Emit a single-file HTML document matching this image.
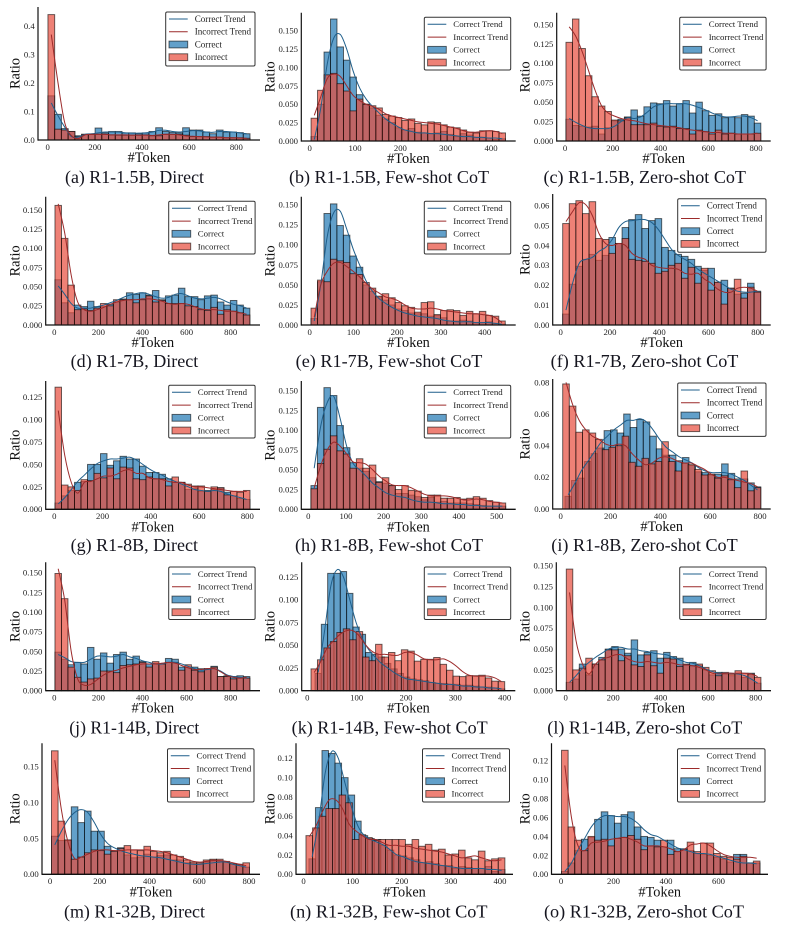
<!DOCTYPE html>
<html lang="en">
<head>
<meta charset="utf-8">
<title>Token count histograms by model and prompting method</title>
<style>
html,body{margin:0;padding:0;background:#fff;}
svg{display:block;font-family:"Liberation Serif",serif;filter:blur(.3px);}
.cap{font-size:17.4px;fill:#15151f;}
</style>
</head>
<body>
<svg id="figure" xmlns="http://www.w3.org/2000/svg" width="785" height="929" viewBox="0 0 785 929">
<rect width="785" height="929" fill="#fff"/>
<g id="plots"></g>
<g>
<text class="cap" x="65" y="183" textLength="139" lengthAdjust="spacingAndGlyphs">(a) R1-1.5B, Direct</text>
<text class="cap" x="289" y="183" textLength="200" lengthAdjust="spacingAndGlyphs">(b) R1-1.5B, Few-shot CoT</text>
<text class="cap" x="543.5" y="183" textLength="202.5" lengthAdjust="spacingAndGlyphs">(c) R1-1.5B, Zero-shot CoT</text>
<text class="cap" x="70.7" y="367" textLength="127.6" lengthAdjust="spacingAndGlyphs">(d) R1-7B, Direct</text>
<text class="cap" x="295.7" y="367" textLength="186.7" lengthAdjust="spacingAndGlyphs">(e) R1-7B, Few-shot CoT</text>
<text class="cap" x="550.7" y="367" textLength="187.7" lengthAdjust="spacingAndGlyphs">(f) R1-7B, Zero-shot CoT</text>
<text class="cap" x="70.7" y="551" textLength="127.3" lengthAdjust="spacingAndGlyphs">(g) R1-8B, Direct</text>
<text class="cap" x="295" y="551" textLength="188" lengthAdjust="spacingAndGlyphs">(h) R1-8B, Few-shot CoT</text>
<text class="cap" x="551.3" y="551" textLength="186.4" lengthAdjust="spacingAndGlyphs">(i) R1-8B, Zero-shot CoT</text>
<text class="cap" x="69.3" y="733.3" textLength="130" lengthAdjust="spacingAndGlyphs">(j) R1-14B, Direct</text>
<text class="cap" x="291.7" y="733.3" textLength="196" lengthAdjust="spacingAndGlyphs">(k) R1-14B, Few-shot CoT</text>
<text class="cap" x="547.3" y="733.3" textLength="195" lengthAdjust="spacingAndGlyphs">(l) R1-14B, Zero-shot CoT</text>
<text class="cap" x="64" y="917.5" textLength="141" lengthAdjust="spacingAndGlyphs">(m) R1-32B, Direct</text>
<text class="cap" x="290" y="917.5" textLength="197.5" lengthAdjust="spacingAndGlyphs">(n) R1-32B, Few-shot CoT</text>
<text class="cap" x="544" y="917.5" textLength="200" lengthAdjust="spacingAndGlyphs">(o) R1-32B, Zero-shot CoT</text>
</g>
</svg>
<script>
// ---------- tick label values ----------
const xTicks200 = [0, 200, 400, 600, 800];
const xTicks200Short = [0, 200, 400, 600];
const xTicks100 = [0, 100, 200, 300, 400];
const xTicks100Long = [0, 100, 200, 300, 400, 500];
const yTicksA = [0, 0.1, 0.2, 0.3, 0.4];
const yTicks150 = [0, 0.025, 0.05, 0.075, 0.1, 0.125, 0.15];
const yTicks125 = [0, 0.025, 0.05, 0.075, 0.1, 0.125];
const yTicksF = [0, 0.01, 0.02, 0.03, 0.04, 0.05, 0.06];
const yTicksI = [0, 0.02, 0.04, 0.06, 0.08];
const yTicksM = [0, 0.05, 0.1, 0.15];
const yTicks12 = [0, 0.02, 0.04, 0.06, 0.08, 0.1, 0.12];

// ---------- series values (ratio per bin) ----------
const aCorrect = [.155,.09,.04,.03,.015,.02,.02,.042,.025,.03,.03,.025,.025,.022,.025,.03,.043,.03,.027,.025,.043,.035,.035,.028,.022,.035,.028,.028,.026,.022];
const aIncorrect = [.44,.038,.035,.03,.012,.02,.02,.02,.02,.018,.017,.017,.017,.017,.018,.015,.015,.02,.02,.02,.017,.012,.012,.012,.01,.01,.008,.008,.008,.006];
const aCorrectTrend = [.13,.085,.045,.012,.01,.02,.022,.025,.028,.028,.028,.025,.024,.024,.025,.028,.034,.034,.03,.028,.03,.033,.032,.028,.027,.03,.03,.028,.025,.022];
const aIncorrectTrend = [.37,.2,.06,.015,.005,.018,.02,.02,.02,.018,.018,.018,.017,.017,.017,.016,.018,.02,.02,.018,.014,.013,.012,.011,.01,.01,.008,.008,.007,.006];

const bCorrect = [.006,.05,.121,.166,.128,.11,.087,.063,.05,.045,.035,.03,.025,.018,.015,.017,.012,.011,.01,.011,.013,.009,.006,.01,.008,.005,.005,.004,.002,.003];
const bIncorrect = [.031,.069,.09,.092,.078,.068,.041,.057,.05,.048,.045,.036,.034,.032,.028,.03,.024,.022,.026,.025,.022,.019,.018,.015,.012,.011,.014,.014,.013,.011];
const bCorrectTrend = [.002,.045,.105,.14,.145,.125,.095,.072,.057,.047,.038,.03,.024,.019,.015,.013,.011,.011,.01,.01,.009,.008,.007,.006,.006,.005,.005,.004,.004,.003];
const bIncorrectTrend = [.035,.06,.085,.091,.088,.075,.062,.055,.05,.047,.043,.037,.034,.032,.03,.028,.026,.025,.024,.023,.021,.019,.017,.014,.012,.012,.013,.014,.013,.01];

const cCorrect = [.028,.02,.019,.018,.019,.009,.017,.026,.028,.031,.04,.032,.044,.049,.048,.052,.045,.048,.052,.036,.05,.039,.033,.035,.03,.031,.03,.034,.032,.023];
const cIncorrect = [.127,.157,.119,.084,.057,.045,.038,.027,.026,.03,.021,.021,.021,.023,.019,.018,.019,.016,.016,.009,.014,.012,.009,.014,.009,.01,.009,.009,.009,.01];
const cCorrectTrend = [.029,.024,.02,.017,.016,.016,.016,.019,.025,.03,.029,.031,.037,.044,.047,.048,.048,.048,.048,.046,.043,.04,.036,.033,.031,.031,.032,.032,.03,.026];
const cIncorrectTrend = [.147,.135,.115,.09,.065,.045,.036,.032,.029,.027,.026,.024,.022,.021,.02,.019,.018,.017,.015,.014,.013,.012,.011,.011,.01,.01,.009,.009,.009,.01];

const dCorrect = [.059,.029,.016,.026,.024,.031,.024,.024,.027,.03,.034,.042,.04,.042,.039,.045,.033,.038,.039,.048,.037,.037,.033,.038,.039,.03,.026,.032,.026,.022];
const dIncorrect = [.156,.113,.052,.02,.021,.019,.022,.028,.025,.033,.033,.033,.029,.033,.038,.03,.032,.028,.028,.028,.025,.024,.02,.019,.023,.014,.02,.018,.016,.013];
const dCorrectTrend = [.051,.04,.028,.022,.022,.022,.024,.026,.029,.032,.036,.039,.041,.042,.04,.037,.035,.036,.04,.041,.038,.035,.034,.035,.036,.034,.03,.027,.025,.022];
const dIncorrectTrend = [.158,.12,.065,.03,.02,.018,.02,.023,.027,.03,.032,.033,.033,.034,.034,.033,.031,.028,.027,.028,.027,.024,.021,.02,.02,.019,.018,.018,.016,.014];

const eCorrect = [.008,.054,.139,.151,.124,.112,.086,.072,.05,.042,.035,.031,.025,.02,.018,.015,.014,.014,.011,.012,.009,.005,.005,.006,.005,.003,.003,.004,.002,.001];
const eIncorrect = [.021,.056,.054,.082,.08,.078,.064,.063,.053,.046,.036,.039,.034,.028,.024,.022,.016,.028,.029,.013,.018,.019,.018,.012,.017,.014,.017,.012,.011,.005];
const eCorrectTrend = [.005,.05,.11,.14,.142,.12,.095,.075,.055,.042,.033,.027,.022,.018,.015,.013,.011,.01,.009,.008,.006,.005,.004,.004,.004,.003,.003,.003,.002,.001];
const eIncorrectTrend = [.01,.05,.067,.077,.078,.073,.067,.06,.052,.045,.04,.035,.033,.03,.025,.021,.02,.02,.021,.02,.018,.017,.016,.015,.014,.014,.013,.012,.009,.003];

const fCorrect = [.0055,.0205,.0295,.033,.0355,.0325,.035,.044,.041,.049,.053,.0555,.0485,.0525,.0535,.039,.0375,.0355,.0345,.033,.0295,.0275,.0285,.0215,.0225,.0185,.0155,.016,.021,.017];
const fIncorrect = [.051,.061,.0625,.056,.062,.0435,.043,.036,.041,.0435,.033,.0325,.032,.031,.026,.027,.03,.031,.0235,.029,.021,.0285,.0175,.0215,.0105,.0185,.023,.0135,.019,.0165];
const fCorrectTrend = [.0075,.021,.031,.033,.034,.037,.039,.043,.049,.052,.0525,.053,.053,.0515,.048,.043,.038,.035,.033,.031,.028,.026,.024,.022,.02,.018,.017,.0165,.0165,.017];
const fIncorrectTrend = [.052,.057,.0615,.0605,.055,.046,.041,.04,.041,.04,.036,.034,.033,.03,.029,.0285,.0285,.028,.026,.0255,.026,.023,.021,.018,.0165,.0165,.0185,.019,.0185,.017];

const gCorrect = [.007,.015,.021,.03,.031,.05,.05,.062,.049,.054,.059,.056,.056,.048,.041,.041,.039,.034,.03,.03,.022,.023,.02,.021,.022,.024,.019,.015,.012,.011];
const gIncorrect = [.136,.027,.025,.021,.033,.032,.04,.035,.046,.034,.047,.046,.034,.033,.036,.034,.034,.026,.036,.03,.028,.026,.026,.02,.025,.024,.016,.02,.019,.021];
const gCorrectTrend = [.006,.013,.022,.031,.038,.045,.051,.054,.056,.056,.057,.058,.055,.05,.045,.041,.038,.034,.031,.028,.025,.022,.021,.02,.021,.02,.017,.015,.013,.011];
const gIncorrectTrend = [.11,.06,.03,.018,.03,.031,.034,.037,.037,.039,.043,.044,.04,.04,.035,.034,.033,.031,.03,.03,.027,.025,.025,.024,.023,.022,.021,.02,.02,.02];

const hCorrect = [.03,.129,.154,.144,.106,.078,.059,.052,.048,.04,.035,.033,.03,.02,.02,.018,.016,.012,.015,.009,.01,.008,.008,.008,.007,.006,.005,.004,.004,.004];
const hIncorrect = [.026,.058,.076,.093,.074,.07,.052,.064,.052,.056,.034,.04,.03,.025,.03,.024,.023,.015,.018,.018,.014,.014,.015,.013,.014,.016,.014,.011,.009,.008];
const hCorrectTrend = [.052,.105,.135,.143,.115,.08,.058,.05,.042,.033,.027,.021,.018,.016,.015,.012,.01,.009,.009,.008,.007,.007,.006,.006,.005,.005,.004,.004,.004,.004];
const hIncorrectTrend = [.027,.055,.075,.085,.08,.07,.06,.059,.057,.05,.042,.036,.031,.03,.03,.027,.023,.019,.017,.017,.017,.016,.014,.012,.012,.013,.012,.01,.009,.008];

const iCorrect = [.008,.018,.0195,.03,.035,.0385,.0495,.05,.048,.06,.0515,.0565,.055,.046,.038,.034,.034,.0305,.0325,.0275,.0235,.023,.0215,.022,.0285,.0225,.019,.019,.0165,.014];
const iIncorrect = [.079,.065,.0485,.05,.048,.044,.0375,.039,.04,.046,.0295,.027,.032,.0285,.03,.0425,.03,.024,.029,.028,.025,.0215,.022,.0195,.021,.0185,.0135,.024,.0115,.0135];
const iCorrectTrend = [.009,.016,.024,.03,.036,.042,.046,.05,.053,.056,.056,.057,.055,.05,.044,.039,.036,.033,.031,.029,.026,.024,.023,.023,.023,.022,.02,.018,.015,.012];
const iIncorrectTrend = [.08,.066,.056,.05,.046,.044,.041,.04,.041,.04,.035,.031,.028,.029,.032,.033,.032,.03,.029,.029,.027,.025,.022,.02,.02,.019,.018,.017,.016,.014];

const jCorrect = [.049,.04,.033,.036,.034,.055,.04,.048,.035,.046,.049,.04,.044,.037,.034,.035,.034,.041,.04,.03,.03,.03,.028,.028,.031,.018,.019,.018,.019,.018];
const jIncorrect = [.149,.117,.03,.017,.011,.015,.016,.025,.025,.023,.032,.033,.034,.036,.03,.037,.034,.036,.036,.026,.033,.026,.024,.028,.03,.018,.018,.015,.016,.016];
const jCorrectTrend = [.046,.042,.037,.036,.036,.04,.044,.044,.043,.044,.046,.043,.041,.038,.036,.034,.034,.036,.036,.034,.031,.028,.026,.027,.028,.025,.02,.018,.017,.016];
const jIncorrectTrend = [.155,.115,.05,.015,.007,.008,.014,.02,.024,.026,.029,.031,.033,.034,.034,.034,.035,.036,.035,.032,.029,.027,.027,.028,.028,.024,.019,.017,.016,.017];

const kCorrect = [.019,.073,.129,.129,.131,.107,.07,.062,.042,.04,.037,.03,.024,.019,.015,.013,.012,.011,.009,.008,.008,.007,.007,.006,.006,.005,.004,.004,.003,.002];
const kIncorrect = [.024,.034,.047,.054,.064,.068,.056,.065,.037,.033,.051,.037,.042,.033,.045,.0435,.0325,.0345,.0345,.0365,.029,.0225,.016,.0155,.0165,.0165,.017,.014,.0105,.01];
const kCorrectTrend = [.02,.065,.115,.133,.125,.1,.075,.057,.045,.037,.03,.025,.02,.016,.013,.012,.011,.01,.009,.008,.007,.007,.006,.005,.005,.004,.004,.003,.003,.002];
const kIncorrectTrend = [.02,.032,.047,.055,.062,.066,.066,.06,.05,.043,.04,.04,.039,.039,.042,.042,.039,.035,.034,.034,.035,.032,.027,.021,.017,.016,.016,.016,.014,.01];

const lCorrect = [.01,.014,.032,.019,.032,.04,.05,.053,.05,.045,.061,.043,.046,.048,.039,.046,.041,.039,.032,.034,.03,.025,.019,.022,.02,.018,.02,.016,.021,.009];
const lIncorrect = [.146,.025,.027,.039,.032,.037,.049,.049,.036,.042,.031,.029,.043,.03,.021,.039,.038,.029,.031,.03,.032,.028,.024,.018,.022,.02,.024,.021,.02,.016];
const lCorrectTrend = [.01,.018,.027,.034,.04,.045,.05,.052,.052,.05,.05,.048,.047,.045,.044,.043,.04,.037,.034,.033,.03,.026,.023,.021,.021,.021,.02,.018,.014,.009];
const lIncorrectTrend = [.118,.06,.032,.02,.032,.038,.04,.043,.043,.038,.035,.034,.035,.034,.033,.034,.033,.031,.031,.03,.028,.025,.021,.02,.021,.021,.021,.021,.02,.017];

const mCorrect = [.053,.047,.047,.094,.072,.088,.06,.06,.039,.033,.037,.027,.023,.024,.028,.024,.026,.027,.02,.02,.016,.015,.014,.017,.02,.018,.017,.014,.013,.01];
const mIncorrect = [.172,.074,.048,.021,.024,.03,.034,.033,.028,.032,.036,.04,.034,.033,.039,.032,.03,.032,.027,.025,.02,.017,.016,.02,.021,.021,.018,.015,.014,.016];
const mCorrectTrend = [.041,.06,.076,.086,.09,.086,.072,.055,.043,.037,.033,.03,.028,.026,.025,.024,.023,.021,.019,.017,.015,.014,.014,.015,.016,.017,.017,.014,.012,.01];
const mIncorrectTrend = [.159,.09,.045,.022,.024,.028,.032,.034,.034,.033,.033,.034,.034,.034,.034,.033,.032,.03,.027,.024,.021,.018,.017,.018,.019,.019,.018,.016,.014,.012];

const nCorrect = [.016,.069,.128,.125,.115,.1,.082,.055,.04,.037,.036,.03,.025,.02,.019,.017,.015,.012,.013,.011,.009,.009,.006,.008,.007,.006,.006,.008,.003,.005];
const nIncorrect = [.04,.048,.06,.068,.068,.082,.074,.036,.041,.038,.035,.036,.036,.036,.036,.031,.036,.029,.031,.025,.026,.02,.021,.025,.017,.015,.024,.014,.016,.017];
const nCorrectTrend = [.018,.055,.105,.127,.12,.095,.07,.05,.04,.036,.033,.03,.025,.02,.018,.015,.013,.012,.011,.01,.009,.008,.007,.006,.006,.006,.006,.005,.005,.004];
const nIncorrectTrend = [.039,.05,.065,.077,.077,.068,.052,.045,.04,.036,.036,.033,.03,.03,.029,.029,.027,.026,.025,.024,.023,.021,.019,.017,.018,.019,.017,.015,.014,.015];

const oCorrect = [.003,.012,.025,.037,.039,.058,.066,.062,.054,.063,.066,.05,.04,.039,.036,.029,.036,.027,.027,.025,.022,.021,.02,.018,.016,.013,.021,.021,.012,.012];
const oIncorrect = [.131,.05,.036,.025,.04,.036,.037,.03,.038,.039,.041,.037,.026,.03,.029,.036,.021,.024,.026,.034,.024,.033,.033,.022,.019,.018,.016,.019,.012,.014];
const oCorrectTrend = [.003,.012,.026,.038,.05,.058,.062,.062,.061,.061,.059,.054,.047,.042,.04,.036,.032,.028,.026,.024,.022,.022,.021,.019,.017,.015,.013,.012,.012,.011];
const oIncorrectTrend = [.115,.06,.03,.025,.033,.034,.035,.037,.038,.039,.037,.034,.03,.03,.03,.029,.027,.024,.026,.031,.032,.033,.03,.025,.021,.019,.018,.018,.018,.017];

// ---------- token range [first bin edge, last bin edge] of each series ----------
const aRange = [1, 858], bRange = [3, 432], cRange = [4, 820], dRange = [3, 887], eRange = [3, 447];
const fRange = [8, 812], gRange = [3, 811], hRange = [7, 524], iRange = [8, 803], iCorrectRange = [17, 803];
const jRange = [3, 887], kRange = [7.5, 400], kCorrectRange = [15.6, 400], lRange = [2.5, 822];
const mRange = [6, 802], nRange = [5, 410], nCorrectRange = [11, 410], oRange = [2, 758];

// ---------- layout of the panels (pixels) ----------
const panels = [
 {id:'a',c:aCorrect,i:aIncorrect,ct:aCorrectTrend,it:aIncorrectTrend,rc:aRange,ri:aRange,xt:xTicks200,yt:yTicksA,dec:1,spine:38,x0:47.7,kx:.2358,base:140,ky:285,top:7,end:260,lx:165.7,ly:12,lw:89.3,lh:54,lf:9.1},
 {id:'b',c:bCorrect,i:bIncorrect,ct:bCorrectTrend,it:bIncorrectTrend,rc:bRange,ri:bRange,xt:xTicks100,yt:yTicks150,dec:3,spine:301.3,x0:309.7,kx:.4533,base:141,ky:735,top:12.7,end:515.7,lx:424.3,ly:17.3,lw:86.4,lh:52.7,lf:8.85},
 {id:'c',c:cCorrect,i:cIncorrect,ct:cCorrectTrend,it:cIncorrectTrend,rc:cRange,ri:cRange,xt:xTicks200,yt:yTicks150,dec:3,spine:556.7,x0:565,kx:.2388,base:141,ky:777,top:12.7,end:770.7,lx:679.7,ly:17.3,lw:86.4,lh:52.7,lf:8.85},
 {id:'d',c:dCorrect,i:dIncorrect,ct:dCorrectTrend,it:dIncorrectTrend,rc:dRange,ri:dRange,xt:xTicks200,yt:yTicks150,dec:3,spine:45.7,x0:54.3,kx:.2205,base:325,ky:766.7,top:196.7,end:260,lx:168.7,ly:201.3,lw:86.4,lh:52.7,lf:8.85},
 {id:'e',c:eCorrect,i:eIncorrect,ct:eCorrectTrend,it:eIncorrectTrend,rc:eRange,ri:eRange,xt:xTicks100,yt:yTicks150,dec:3,spine:301.3,x0:309.7,kx:.4375,base:325,ky:802,top:196.7,end:515.7,lx:424.3,ly:201.3,lw:86.4,lh:52.7,lf:8.85},
 {id:'f',c:fCorrect,i:fIncorrect,ct:fCorrectTrend,it:fIncorrectTrend,rc:fRange,ri:fRange,xt:xTicks200,yt:yTicksF,dec:2,spine:552.7,x0:560.7,kx:.2463,base:325,ky:1989,top:194,end:770.7,lx:677.7,ly:198.7,lw:88.3,lh:53.6,lf:9},
 {id:'g',c:gCorrect,i:gIncorrect,ct:gCorrectTrend,it:gIncorrectTrend,rc:gRange,ri:gRange,xt:xTicks200,yt:yTicks125,dec:3,spine:45.7,x0:54.3,kx:.2413,base:509.3,ky:898,top:381,end:260,lx:168.7,ly:385.3,lw:86.4,lh:52.7,lf:8.85},
 {id:'h',c:hCorrect,i:hIncorrect,ct:hCorrectTrend,it:hIncorrectTrend,rc:hRange,ri:hRange,xt:xTicks100Long,yt:yTicks150,dec:3,spine:301.3,x0:308.3,kx:.3767,base:509.3,ky:790,top:381,end:515.7,lx:424.3,ly:385.3,lw:86.4,lh:52.7,lf:8.85},
 {id:'i',c:iCorrect,i:iIncorrect,ct:iCorrectTrend,it:iIncorrectTrend,rc:iCorrectRange,ri:iRange,xt:xTicks200,yt:yTicksI,dec:2,spine:552.7,x0:560.7,kx:.2492,base:509,ky:1583,top:379,end:770.7,lx:677.7,ly:383,lw:88.3,lh:53.4,lf:9},
 {id:'j',c:jCorrect,i:jIncorrect,ct:jCorrectTrend,it:jIncorrectTrend,rc:jRange,ri:jRange,xt:xTicks200,yt:yTicks150,dec:3,spine:45.7,x0:54.3,kx:.2205,base:690.7,ky:786.7,top:562.3,end:260,lx:168.7,ly:567,lw:86.4,lh:52.5,lf:8.85},
 {id:'k',c:kCorrect,i:kIncorrect,ct:kCorrectTrend,it:kIncorrectTrend,rc:kCorrectRange,ri:kRange,xt:xTicks100,yt:yTicks125,dec:3,spine:301.7,x0:307.3,kx:.4935,base:690.7,ky:909.6,top:562.3,end:515.3,lx:424.3,ly:567,lw:86.4,lh:52.5,lf:8.85},
 {id:'l',c:lCorrect,i:lIncorrect,ct:lCorrectTrend,it:lIncorrectTrend,rc:lRange,ri:lRange,xt:xTicks200,yt:yTicks150,dec:3,spine:556.3,x0:565.7,kx:.2375,base:690.7,ky:833,top:562.3,end:771,lx:679.7,ly:567,lw:86.4,lh:52.5,lf:8.85},
 {id:'m',c:mCorrect,i:mIncorrect,ct:mCorrectTrend,it:mIncorrectTrend,rc:mRange,ri:mRange,xt:xTicks200,yt:yTicksM,dec:2,spine:42,x0:50,kx:.24875,base:874.3,ky:718,top:743.3,end:260,lx:167.5,ly:748.7,lw:86.5,lh:53.3,lf:8.85},
 {id:'n',c:nCorrect,i:nIncorrect,ct:nCorrectTrend,it:nIncorrectTrend,rc:nCorrectRange,ri:nRange,xt:xTicks100,yt:yTicks12,dec:2,spine:296,x0:303.5,kx:.4912,base:874.3,ky:966.7,top:743.3,end:513,lx:422.5,ly:748.7,lw:87,lh:53.3,lf:8.85},
 {id:'o',c:oCorrect,i:oIncorrect,ct:oCorrectTrend,it:oIncorrectTrend,rc:oRange,ri:oRange,xt:xTicks200Short,yt:yTicks12,dec:2,spine:551.5,x0:561,kx:.2625,base:874.3,ky:946.7,top:743.3,end:768,lx:677.5,ly:748.7,lw:87.5,lh:53.3,lf:8.85}
];

const correctFill = '#1f77b4';
const incorrectFill = '#e74c3c';
const correctLine = '#1f5f8b';
const incorrectLine = '#9c2a2a';
const legendLabels = ['Correct Trend', 'Incorrect Trend', 'Correct', 'Incorrect'];

const SVGNS = 'http://www.w3.org/2000/svg';
function mk(tag, attrs, parent) {
  const el = document.createElementNS(SVGNS, tag);
  for (const k in attrs) el.setAttribute(k, attrs[k]);
  parent.appendChild(el);
  return el;
}
function smoothPath(pts) {
  let d = 'M' + pts[0][0].toFixed(2) + ' ' + pts[0][1].toFixed(2);
  for (let n = 0; n < pts.length - 1; n++) {
    const p0 = pts[Math.max(n - 1, 0)], p1 = pts[n], p2 = pts[n + 1], p3 = pts[Math.min(n + 2, pts.length - 1)];
    const c1x = p1[0] + (p2[0] - p0[0]) / 6, c1y = p1[1] + (p2[1] - p0[1]) / 6;
    const c2x = p2[0] - (p3[0] - p1[0]) / 6, c2y = p2[1] - (p3[1] - p1[1]) / 6;
    d += 'C' + c1x.toFixed(2) + ' ' + c1y.toFixed(2) + ' ' + c2x.toFixed(2) + ' ' + c2y.toFixed(2) + ' ' + p2[0].toFixed(2) + ' ' + p2[1].toFixed(2);
  }
  return d;
}
function drawBars(group, values, range, fill, xScale, yScale, label) {
  const w = (range[1] - range[0]) / values.length;
  values.forEach(function (v, n) {
    const x1 = xScale(range[0] + n * w), x2 = xScale(range[0] + (n + 1) * w);
    const bar = mk('rect', {x: x1, y: yScale(v), width: x2 - x1, height: yScale(0) - yScale(v), fill: fill, 'fill-opacity': .7, stroke: '#000', 'stroke-opacity': .6, 'stroke-width': .95}, group);
    
    
  });
}
function drawTrend(group, values, range, color, xScale, yScale, label) {
  const w = (range[1] - range[0]) / values.length;
  const pts = values.map(function (v, n) { return [xScale(range[0] + (n + .5) * w), yScale(v)]; });
  const line = mk('path', {d: smoothPath(pts), fill: 'none', stroke: color, 'stroke-width': 1}, group);
  
  
}
function drawPanel(p) {
  const xScale = function (v) { return p.x0 + v * p.kx; };
  const yScale = function (v) { return p.base - v * p.ky; };
  const g = mk('g', {}, document.getElementById('plots'));
  
  

  drawBars(g, p.c, p.rc, correctFill, xScale, yScale, 'correct');
  drawBars(g, p.i, p.ri, incorrectFill, xScale, yScale, 'incorrect');
  drawTrend(g, p.ct, p.rc, correctLine, xScale, yScale, 'correct');
  drawTrend(g, p.it, p.ri, incorrectLine, xScale, yScale, 'incorrect');

  const spineY = mk('line', {x1: p.spine, x2: p.spine, y1: p.top, y2: p.base + .6, stroke: '#111', 'stroke-width': 1.2}, g);
  
  
  const spineX = mk('line', {x1: p.spine, x2: p.end, y1: p.base, y2: p.base, stroke: '#111', 'stroke-width': 1.3}, g);
  
  

  p.xt.forEach(function (t) {
    const el = mk('text', {x: xScale(t), y: p.base + 9.8, 'text-anchor': 'middle', 'font-size': 8.7, fill: '#222'}, g);
    
    
    el.textContent = t;
  });
  p.yt.forEach(function (t) {
    const el = mk('text', {x: p.spine - 3.3, y: yScale(t) + 2.9, 'text-anchor': 'end', 'font-size': 8.7, fill: '#222'}, g);
    
    
    el.textContent = t.toFixed(p.dec);
  });

  const xTitle = mk('text', {x: (p.spine + p.end) / 2, y: p.base + 22, 'text-anchor': 'middle', 'font-size': 14.3, fill: '#111'}, g);
  
  
  xTitle.textContent = '#Token';

  const rx = p.spine < 100 ? 15 : (p.spine < 400 ? 270 : 525);
  const ry = (p.top + p.base) / 2;
  const yTitle = mk('text', {x: rx + 4.6, y: ry, transform: 'rotate(-90 ' + (rx + 4.6) + ' ' + ry + ')', 'text-anchor': 'middle', 'font-size': 14.3, fill: '#111'}, g);
  
  
  yTitle.textContent = 'Ratio';

  const legend = mk('g', {}, g);
  
  
  const frame = mk('rect', {x: p.lx, y: p.ly, width: p.lw, height: p.lh, rx: 1.5, fill: '#fff', 'fill-opacity': .85, stroke: '#333', 'stroke-width': 1}, legend);
  
  
  const rows = [7, 19.8, 32.5, 45.2];
  legendLabels.forEach(function (label, n) {
    const y = p.ly + rows[n];
    const entry = mk('g', {}, legend);
    
    
    if (n < 2) {
      mk('line', {x1: p.lx + 3.3, x2: p.lx + 22, y1: y, y2: y, stroke: n === 0 ? correctLine : incorrectLine, 'stroke-width': 1}, entry);
    } else {
      mk('rect', {x: p.lx + 3.3, y: y - 3.4, width: 18.7, height: 6.8, fill: n === 2 ? correctFill : incorrectFill, 'fill-opacity': .7, stroke: '#000', 'stroke-opacity': .6, 'stroke-width': .95}, entry);
    }
    const txt = mk('text', {x: p.lx + 29, y: y + 2.8, 'font-size': p.lf, fill: '#222'}, entry);
    txt.textContent = label;
  });
}
panels.forEach(drawPanel);
</script>
</body>
</html>
